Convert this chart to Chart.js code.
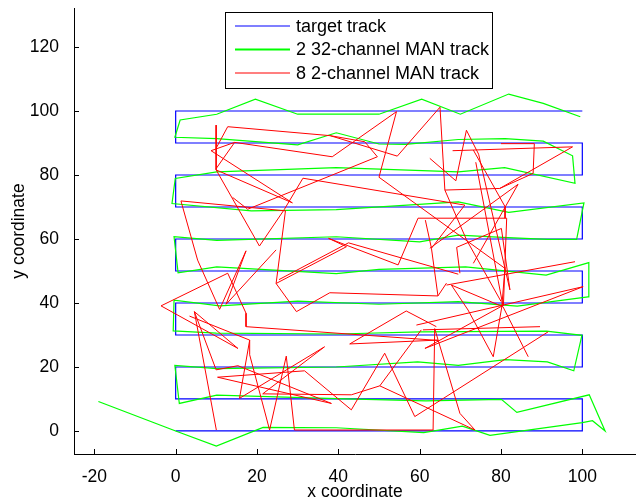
<!DOCTYPE html>
<html>
<head>
<meta charset="utf-8">
<script src="https://cdn.jsdelivr.net/npm/chart.js@4.4.1/dist/chart.umd.min.js"></script>
<style>
  html, body { margin: 0; padding: 0; background: #fff; }
</style>
</head>
<body>
<canvas id="trackChart" width="636" height="503"></canvas>
<script>
// axis ticks
const xTicks = [-20, 0, 20, 40, 60, 80, 100];
const yTicks = [0, 20, 40, 60, 80, 100, 120];

// reference route: lawnmower sweep over 0..100
const targetX = [0, 100, 100, 0, 0, 100, 100, 0, 0, 100, 100, 0, 0, 100, 100, 0, 0, 100, 100, 0, 0, 100];
const targetY = [0, 0, 10, 10, 20, 20, 30, 30, 40, 40, 50, 50, 60, 60, 70, 70, 80, 80, 90, 90, 100, 100];

// estimate from the two 32-channel nodes
const greenX = [-19, 0, 10, 21.5, 39.5, 61, 70.5, 77.3, 100, 102.5, 105.6, 101.7, 83.9, 80.1, 61.5, 39.5, 10.1, 0.9,
  -0.2, 10.1, 39.5, 59.5, 69.5, 81.1, 91.4, 97.9, 99.9, 91.2, 60, 40, 10, -0.6,
  -0.4, 10.8, 30, 50, 69.5, 84, 101.4, 101.6, 91.1, 71.3, 50, 39.5, 10.1, 0.6,
  -0.4, 10.1, 39.5, 60, 69.5, 80.4, 91.4, 98.6, 100.4, 81.9, 69.5, 39.5, 18.6, -0.9,
  -0.1, 10.1, 39.5, 69.5, 80.9, 98.2, 97.6, 90.4, 81, 69.5, 56.5, 50, 39.5, 30, 10.1, -0.2,
  1.1, 10.1, 19.6, 30, 50, 60.5, 70, 81.9, 90.4, 99.5];
const greenY = [9.2, 0, -4.7, 1.1, 1.0, -0.5, 1.5, -1.4, 2.6, 3.2, 0, 11.3, 5.8, 9.9, 9.4, 10.1, 11.2, 8.6,
  20.5, 19.5, 20.0, 21.6, 20.5, 22.3, 21.6, 18.8, 29.9, 31.2, 31, 30.3, 30.6, 31.3,
  40.9, 39.1, 40.6, 39.6, 40.4, 39, 41.9, 52.6, 48.7, 51.3, 50.5, 49.2, 51.3, 49.4,
  60.7, 59.6, 60.7, 59.1, 61.2, 60.5, 59.9, 59.9, 71.3, 68.3, 71.6, 69.2, 68.8, 71.1,
  78.9, 81, 82.3, 81, 82.3, 77.4, 86, 90.6, 91.4, 91.1, 89.6, 89.7, 93.2, 89.4, 91.4, 91.8,
  97.2, 99, 103.7, 99, 99, 103.7, 99, 105.3, 102.4, 98.2];

// estimate from the eight 2-channel nodes (null = pen up)
const redX = [
  10, 4.6, 15.3, -3.6, 12.8, 17.3, 17.3, 64.5, null,
  3.4, 18.2, 15.7, 36.6, 21.4, 43.2, 50.2, 73.6, 69.9, 63.7, 63.3, 29.2, 27.2, 23.1, 18.2, 18.2, null,
  4.6, 9.95, 15.3, 38.3, 10.3, 31.7, 43.2, 51.4, 58.8, 91.6, null,
  50.2, 60.4, null,
  64.5, 42.8, 56.7, 64.1, null,
  60.8, 89.6, null,
  1.3, 27.0, 24.7, 42.0, 37.6, 54.7, 59.6, 81.4, 80.6, 61.3, 100.2, 59.2, null,
  24.7, 29.7, 37.9, 64.5, 66.6, null,
  25.4, 42.5, 69.5, null,
  1.3, 5.4, 10.8, 17.3, 12.4, 24.7, null,
  9.95, 9.95, 28.7, 8.7, 14.5, 9.95, null,
  14.5, 38.5, 54.3, 50.0, 81.0, null,
  12.8, 10.0, null,
  12.8, 38.0, 46.5, 49.6, 17.7, 14.0, null,
  9.95, 20.6, 26.7, 31.3, 71.1, 62.9, 64.5, null,
  38.0, 54.5, 65.0, 66.2, 79.7, 87.9, 88.2, 80.0, null,
  68.1, 97.6, 79.7, null,
  62.5, 68.9, 71.5, 74.5, 82.2, null,
  73.2, 81.0, 81.0, null,
  73.8, 80.5, null,
  62.5, 84.2, 73.2, null,
  69.9, 69.1, 80.1, 82.2, null,
  66.6, 98.2, null,
  81.0, 80.2, 78.1, 71.9, 67.8, 80.5, 86.7, null,
  66.2, 71.5, 80.0, null,
  61.4, 62.9
];
const redY = [
  0.3, 37.3, 25.8, 39.1, 49.3, 36.8, 32.6, 28.3, null,
  35.9, 28.4, 10.2, 26.3, 11.6, 11.3, 14.1, 0.3, 5.5, 32.0, 0.3, 0.3, 23.4, 0.3, 23.8, 28.4, null,
  37.3, 19.1, 20.4, 8.6, 16.8, 18.8, 6.6, 24.3, 4.5, 31.0, null,
  14.1, 31.6, null,
  28.4, 27.2, 37.5, 32.6, null,
  31.6, 32.6, null,
  71.9, 68.8, 46.1, 57.6, 60.2, 51.9, 66.5, 66.5, 39.3, 25.8, 45.1, 33.1, null,
  46.1, 37.3, 43.2, 42.2, 46.2, null,
  47.3, 58.8, 49.0, null,
  71.9, 53.4, 38.0, 56.3, 39.6, 56.6, null,
  95.6, 81.6, 71.3, 87.6, 90.2, 82.0, null,
  90.2, 85.7, 99.8, 79.3, 50.8, null,
  95.1, 88.5, null,
  95.1, 92.3, 90.4, 85.7, 69.3, 73.0, null,
  81.6, 57.8, 69.2, 79.0, 70.6, 57.1, 42.2, null,
  92.3, 85.9, 101.2, 75.3, 75.8, 80.5, 89.8, 89.8, null,
  87.6, 88.8, 75.8, null,
  85.2, 78.2, 94.0, 86.5, 44.1, null,
  87.8, 70.1, 66.5, null,
  84.0, 39.0, null,
  57.1, 77.1, 52.4, null,
  49.3, 57.4, 63.3, 44.1, null,
  45.6, 52.9, null,
  51.3, 38.8, 23.2, 37.8, 45.6, 38.8, 23.2, null,
  75.3, 59.8, 40.5, null,
  65.9, 57.1
];

const toPoints = (xs, ys) => xs.map((v, i) => ({ x: v, y: ys[i] }));
const fontFamily = '"Liberation Sans", Arial, sans-serif';

// MATLAB-style inward tick marks
const innerTicks = {
  id: 'innerTicks',
  afterDraw(chart) {
    const { ctx, chartArea: a, scales: { x, y } } = chart;
    ctx.save();
    ctx.strokeStyle = '#000';
    ctx.lineWidth = 1;
    ctx.beginPath();
    xTicks.forEach(v => {
      const px = Math.round(x.getPixelForValue(v)) + 0.5;
      ctx.moveTo(px, a.bottom);
      ctx.lineTo(px, a.bottom - 5);
    });
    yTicks.forEach(v => {
      const py = Math.round(y.getPixelForValue(v)) + 0.5;
      ctx.moveTo(a.left, py);
      ctx.lineTo(a.left + 5, py);
    });
    ctx.stroke();
    ctx.restore();
  }
};

// boxed legend in the upper middle
const boxLegend = {
  id: 'boxLegend',
  afterDraw(chart) {
    const ctx = chart.ctx;
    ctx.save();
    ctx.fillStyle = '#fff';
    ctx.fillRect(225.5, 12.5, 267, 76);
    ctx.strokeStyle = '#000';
    ctx.lineWidth = 1;
    ctx.strokeRect(225.5, 12.5, 267, 76);
    ctx.font = '18px ' + fontFamily;
    ctx.textBaseline = 'middle';
    chart.data.datasets.forEach((ds, i) => {
      const ly = 26 + i * 23.5;
      ctx.strokeStyle = ds.borderColor;
      ctx.lineWidth = ds.legendWidth;
      ctx.beginPath();
      ctx.moveTo(235, ly);
      ctx.lineTo(290, ly);
      ctx.stroke();
      ctx.fillStyle = '#000';
      ctx.fillText(ds.label, 296, ly + 1);
    });
    ctx.restore();
  }
};

const ctx = document.getElementById('trackChart').getContext('2d');
new Chart(ctx, {
  type: 'scatter',
  data: {
    datasets: [
      {
        label: 'target track',
        data: toPoints(targetX, targetY),
        showLine: true,
        borderColor: '#0000ff',
        borderWidth: 1.2,
        legendWidth: 1.2,
        pointRadius: 0,
        order: 3
      },
      {
        label: '2 32-channel MAN track',
        data: toPoints(greenX, greenY),
        showLine: true,
        borderColor: '#00ff00',
        borderWidth: 1.2,
        legendWidth: 2,
        pointRadius: 0,
        order: 2
      },
      {
        label: '8 2-channel MAN track',
        data: toPoints(redX, redY),
        showLine: true,
        spanGaps: false,
        borderColor: '#ff0000',
        borderWidth: 1,
        legendWidth: 1.2,
        pointRadius: 0,
        order: 1
      }
    ]
  },
  options: {
    responsive: false,
    animation: false,
    layout: { padding: { top: 8, right: 0, left: 0, bottom: 0 } },
    plugins: {
      legend: { display: false },
      tooltip: { enabled: false }
    },
    scales: {
      x: {
        type: 'linear',
        min: -25,
        max: 113.2,
        afterBuildTicks: s => { s.ticks = xTicks.map(v => ({ value: v })); },
        afterFit: s => { s.height = 49; s.paddingLeft = 0; s.paddingRight = 0; },
        grid: { display: false },
        border: { display: true, color: '#000', width: 1 },
        ticks: { color: '#000', padding: 5, maxRotation: 0, autoSkip: false, font: { family: fontFamily, size: 17.5 } },
        title: { display: true, text: 'x coordinate', color: '#000', padding: { top: 0, bottom: 0 }, font: { family: fontFamily, size: 17.5 } }
      },
      y: {
        type: 'linear',
        min: -7.2,
        max: 132.2,
        afterBuildTicks: s => { s.ticks = yTicks.map(v => ({ value: v })); },
        afterFit: s => { s.width = 74; s.paddingTop = 0; s.paddingBottom = 0; },
        grid: { display: false },
        border: { display: true, color: '#000', width: 1 },
        ticks: { color: '#000', padding: 7, autoSkip: false, font: { family: fontFamily, size: 17.5 } },
        title: { display: true, text: 'y coordinate', color: '#000', padding: { top: 9, bottom: 0 }, font: { family: fontFamily, size: 17.5 } }
      }
    }
  },
  plugins: [innerTicks, boxLegend]
});
</script>
</body>
</html>
